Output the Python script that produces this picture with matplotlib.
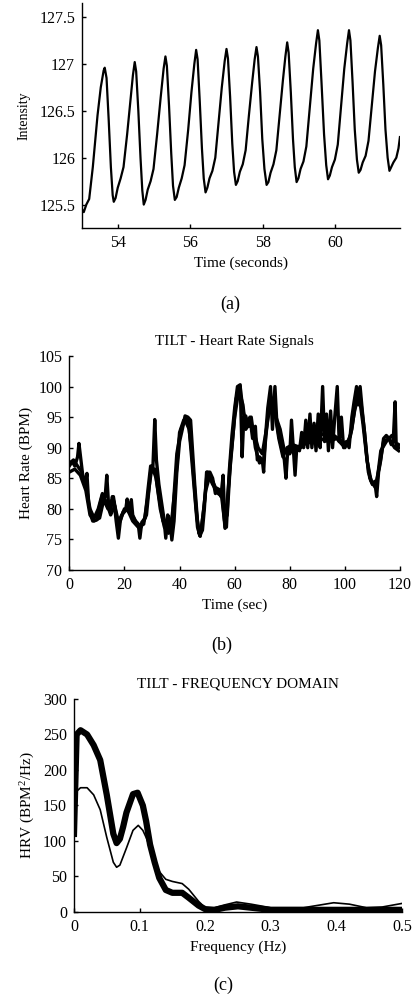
import matplotlib
matplotlib.use('Agg')
import matplotlib.pyplot as plt
from matplotlib.ticker import FormatStrFormatter

plt.rcParams['font.family'] = ['Liberation Serif', 'DejaVu Serif']
plt.rcParams['mathtext.fontset'] = 'custom'
plt.rcParams['mathtext.rm'] = 'Liberation Serif'
plt.rcParams['mathtext.it'] = 'Liberation Serif:italic'

# --- (a) PPG intensity trace ---
ppg_t = [53.0, 53.05, 53.12, 53.2, 53.3, 53.43, 53.52, 53.6, 53.63, 53.68, 53.74, 53.8, 53.85,
         53.88, 53.93, 53.99, 54.07, 54.15, 54.25, 54.34, 54.41, 54.46, 54.5, 54.56, 54.62, 54.67,
         54.71, 54.76, 54.82, 54.9, 54.98, 55.08, 55.18, 55.26, 55.31, 55.35, 55.41, 55.47, 55.52,
         55.57, 55.62, 55.68, 55.76, 55.84, 55.94, 56.03, 56.11, 56.16, 56.2, 56.26, 56.32, 56.37,
         56.42, 56.47, 56.53, 56.61, 56.69, 56.78, 56.87, 56.95, 57.0, 57.04, 57.1, 57.16, 57.21,
         57.26, 57.31, 57.37, 57.45, 57.53, 57.62, 57.71, 57.78, 57.83, 57.87, 57.93, 57.99, 58.05,
         58.11, 58.16, 58.22, 58.3, 58.38, 58.47, 58.56, 58.63, 58.68, 58.72, 58.78, 58.84, 58.89,
         58.94, 58.99, 59.05, 59.13, 59.21, 59.31, 59.4, 59.48, 59.53, 59.57, 59.63, 59.7, 59.76,
         59.81, 59.86, 59.92, 60.0, 60.08, 60.17, 60.26, 60.34, 60.39, 60.43, 60.49, 60.55, 60.61,
         60.66, 60.71, 60.77, 60.85, 60.93, 61.02, 61.11, 61.19, 61.24, 61.28, 61.34, 61.4, 61.46,
         61.51, 61.56, 61.62, 61.7, 61.76, 61.8]
ppg_v = [125.45, 125.42, 125.5, 125.56, 125.9, 126.45, 126.75, 126.93, 126.96, 126.85, 126.4, 125.9, 125.6,
         125.53, 125.57, 125.68, 125.78, 125.9, 126.25, 126.6, 126.88, 127.02, 126.92, 126.5, 126.0, 125.65,
         125.50, 125.55, 125.66, 125.75, 125.88, 126.25, 126.65, 126.95, 127.08, 126.98, 126.55, 126.05, 125.7,
         125.55, 125.58, 125.68, 125.78, 125.92, 126.3, 126.7, 127.0, 127.15, 127.05, 126.6, 126.1, 125.78,
         125.63, 125.68, 125.78, 125.86, 126.0, 126.38, 126.75, 127.03, 127.16, 127.06, 126.65, 126.15, 125.85,
         125.71, 125.75, 125.85, 125.93, 126.08, 126.45, 126.8, 127.05, 127.18, 127.08, 126.7, 126.2, 125.88,
         125.71, 125.74, 125.84, 125.93, 126.08, 126.45, 126.82, 127.08, 127.23, 127.12, 126.7, 126.2, 125.9,
         125.74, 125.78, 125.88, 125.96, 126.12, 126.55, 126.95, 127.22, 127.36, 127.25, 126.8, 126.25, 125.92,
         125.77, 125.81, 125.9, 125.98, 126.14, 126.55, 126.95, 127.22, 127.36, 127.25, 126.8, 126.3, 125.98,
         125.84, 125.87, 125.95, 126.02, 126.18, 126.55, 126.92, 127.17, 127.30, 127.2, 126.78, 126.3, 126.0,
         125.86, 125.9, 125.95, 126.0, 126.1, 126.22]

# --- (b) heart rate signals (three overlapping traces) ---
hr_t1 = [0, 1, 2, 3, 3.5, 4.2, 5, 5.8, 6.4, 7, 7.8, 8.5, 10, 11, 12, 13, 13.6, 14.2, 15, 15.6, 16.3, 17,
         17.8, 18.5, 19.5, 20.5, 21, 21.5, 22.5, 23, 24, 25, 25.6, 26.3, 27.5, 28.5, 29.5, 30.3, 31, 31.6,
         32.5, 33.5, 34.3, 35, 35.7, 36.5, 37.2, 38, 39, 40, 41, 42, 43, 44, 44.5, 45.5, 46.5, 47.3, 48.3,
         49, 49.8, 51, 52, 53, 54, 55, 55.8, 56.5, 57, 58, 59, 60, 61, 62, 62.7, 63.3, 64, 65, 65.5, 66.5,
         67.5, 68.2, 69, 70, 70.5, 71.2, 72, 73, 73.7, 74.6, 75.3, 76, 77, 78, 78.6, 79.3, 80, 80.6, 81.3,
         81.9, 82.5, 83.5, 84.3, 85, 85.8, 86.5, 87.3, 88, 88.8, 89.5, 90.3, 91, 91.9, 92.6, 93.3, 94, 94.8,
         95.5, 96.3, 97.2, 97.9, 98.7, 99.5, 100.5, 101.5, 102.5, 103.3, 104.2, 104.8, 105.5, 106.3, 107.2,
         108, 109, 110, 110.8, 111.5, 112.2, 113, 114, 115, 116, 116.8, 117.5, 118.2, 118.6, 119.5]
hr_v1 = [87.5, 87.8, 87, 88.5, 90.7, 88, 85, 84, 85.8, 81, 79, 78, 78.2, 80.5, 82.3, 82, 85.5, 81, 79.5, 82,
         81, 78, 75.2, 78, 79.5, 80, 81.6, 79.5, 81.5, 79, 78, 77.5, 75.2, 77.8, 78.5, 83, 87, 86.5, 94.6, 88,
         84, 81, 78.5, 75.2, 79, 78, 74.9, 78, 86, 91, 93, 95.2, 95, 94.5, 91, 84, 78, 75.6, 76.5,
         80, 86, 86, 85, 82.5, 83, 82, 85.5, 77, 77, 86, 92, 96.5, 100, 100.3, 88.5, 95, 95.2, 93.5, 95, 91.5,
         93.5, 88, 88.5, 88, 86, 92, 96.5, 100, 93, 100, 94, 92, 90, 88, 85, 90, 89, 94.5, 89.5,
         85.5, 90, 89.5, 92.5, 90, 94.5, 90, 95.5, 90, 94, 89.5, 95.5, 90, 100, 91, 95.5, 89.5, 96,
         90, 95, 100, 91, 95, 90, 91, 90, 95, 97.5, 100, 97, 100, 96, 92,
         88, 85, 84, 84.5, 82, 86, 88, 91.5, 92, 91.5, 90.5, 91, 97.5, 90, 90.5]

hr_t2 = [0, 2, 4, 6, 7.5, 9, 11, 12.5, 14, 16, 17.5, 19, 21, 23, 25, 27, 28.5, 30, 31.5, 33, 34.5, 36,
         37.5, 39, 40.5, 42, 43.5, 45, 46.5, 47.5, 48.8, 50, 52, 54, 55.5, 56.5, 57.8, 59, 60.5, 62, 63,
         64.5, 66, 67.5, 69, 70.5, 72, 73.5, 75, 76.5, 78, 79.5, 82, 85, 88, 91, 94, 97, 100, 102, 103.5,
         105, 106.5, 108, 109.5, 111, 112.5, 114, 116, 118, 119.5]
hr_v2 = [86, 86.5, 85.5, 83, 79, 78, 78.5, 81.5, 80, 82, 77.5, 79, 80, 78, 77, 77.5, 82, 87, 85, 80, 77, 76,
         79, 89, 93, 94.5, 93, 85, 77, 75.5, 80, 86, 84, 82.5, 82, 76.8, 84, 90, 98, 100, 96,
         93.5, 95, 90, 87.5, 88, 95, 97, 95, 93, 89.5, 89, 90, 90.5, 91, 91.5, 91, 91.5, 90, 92, 96,
         99, 94, 88, 84.5, 83.5, 87, 91, 91.5, 90, 89.5]

hr_t3 = [0, 1.5, 3, 4.5, 6, 7.5, 9, 10.5, 12, 13.5, 15, 16.5, 18, 20, 22, 24, 26, 28, 29.5, 31, 32.5, 34,
         35.5, 37, 38.5, 40, 41.5, 43, 44.5, 46, 47, 48, 49.5, 51, 53, 55, 56.3, 57.3, 58.5, 60, 61.5, 63,
         64, 65.5, 67, 68.5, 70, 71.5, 73, 74.5, 76, 77.5, 79, 81, 84, 87, 90, 93, 96, 99, 101, 102.5, 104,
         105.5, 107, 108.5, 110, 111.5, 113, 115, 117, 119.5]
hr_v3 = [87, 88, 87, 86, 84, 80, 78.5, 80, 82.5, 81, 79, 80.5, 77.5, 80, 79.5, 78, 77, 79, 86, 86.5, 82, 78,
         77, 77.5, 84, 92.5, 94.5, 94.8, 89, 80, 76, 77, 83, 85.5, 83.5, 83, 78, 79, 88, 95, 99.5, 97,
         93, 94, 92.5, 90, 89, 93, 97.5, 96, 91.5, 88.5, 90, 90.5, 90, 92, 92.5, 92, 92, 91, 90.5, 93, 98,
         98.5, 93, 86, 84, 84, 89.5, 91, 92, 90]

# --- (c) HRV spectra ---
freq_thick = [0, 0.004, 0.01, 0.02, 0.03, 0.04, 0.05, 0.06, 0.065, 0.07, 0.075, 0.08, 0.09, 0.097, 0.105,
              0.11, 0.116, 0.123, 0.13, 0.14, 0.15, 0.165, 0.175, 0.19, 0.2, 0.215, 0.23, 0.25, 0.27, 0.3,
              0.35, 0.4, 0.45, 0.5]
hrv_thick = [110, 250, 256, 250, 235, 214, 165, 110, 97, 103, 120, 140, 166, 168, 150,
             128, 95, 70, 48, 31, 27, 27, 20, 9, 4, 3, 6, 8, 6, 3,
             3, 3, 3, 3]
freq_thin = [0, 0.004, 0.01, 0.02, 0.03, 0.04, 0.05, 0.06, 0.065, 0.07, 0.08, 0.09, 0.098, 0.105, 0.11,
             0.12, 0.13, 0.14, 0.15, 0.165, 0.175, 0.19, 0.2, 0.21, 0.23, 0.248, 0.27, 0.3, 0.35, 0.396,
             0.42, 0.446, 0.47, 0.5]
hrv_thin = [100, 170, 175, 175, 165, 144, 105, 70, 63, 66, 90, 115, 122, 115, 105,
            80, 57, 46, 43, 40, 32, 15, 6, 5, 10, 14, 11, 6, 6, 13,
            11, 6, 7, 12]

TICK_FS = 11.5
LABEL_FS = 11


def style_ax(ax):
    ax.spines['top'].set_visible(False)
    ax.spines['right'].set_visible(False)
    for s in ('left', 'bottom'):
        ax.spines[s].set_linewidth(1.0)
    ax.tick_params(direction='in', length=3, width=1.0, labelsize=TICK_FS, pad=5)


fig = plt.figure(figsize=(4.14, 9.98), dpi=100)

# (a)
ax1 = fig.add_axes([0.198, 0.7715, 0.768, 0.2255])
ax1.plot(ppg_t, ppg_v, color='black', lw=1.6)
ax1.set_xlim(53.0, 61.8)
ax1.set_ylim(125.25, 127.65)
ax1.set_xticks([54, 56, 58, 60])
ax1.set_yticks([125.5, 126, 126.5, 127, 127.5])
ax1.yaxis.set_major_formatter(FormatStrFormatter('%g'))
style_ax(ax1)
ax1.set_xlabel('Time (seconds)', fontsize=LABEL_FS, labelpad=4)
ax1.set_ylabel('Intensity', fontsize=10, labelpad=6)
fig.text(0.556, 1 - 304 / 998, '(a)', ha='center', va='center', fontsize=13)

# (b)
ax2 = fig.add_axes([0.1674, 0.4289, 0.799, 0.2144])
for t, v in ((hr_t2, hr_v2), (hr_t3, hr_v3), (hr_t1, hr_v1)):
    ax2.plot(t, v, color='black', lw=2.4)
ax2.set_xlim(0, 120)
ax2.set_ylim(70, 105)
ax2.set_xticks(range(0, 121, 20))
ax2.set_yticks(range(70, 106, 5))
style_ax(ax2)
ax2.set_title('TILT - Heart Rate Signals', fontsize=LABEL_FS, pad=8)
ax2.set_xlabel('Time (sec)', fontsize=LABEL_FS, labelpad=4)
ax2.set_ylabel('Heart Rate (BPM)', fontsize=LABEL_FS, labelpad=4)
fig.text(0.536, 1 - 645 / 998, '(b)', ha='center', va='center', fontsize=13)

# (c)
ax3 = fig.add_axes([0.1787, 0.0862, 0.792, 0.2134])
ax3.plot(freq_thick, hrv_thick, color='black', lw=4.5, solid_joinstyle='round')
ax3.plot(freq_thin, hrv_thin, color='black', lw=1.2)
ax3.set_xlim(0, 0.5)
ax3.set_ylim(0, 300)
ax3.set_xticks([0, 0.1, 0.2, 0.3, 0.4, 0.5])
ax3.set_yticks(range(0, 301, 50))
ax3.xaxis.set_major_formatter(FormatStrFormatter('%g'))
style_ax(ax3)
ax3.set_title('TILT - FREQUENCY DOMAIN', fontsize=LABEL_FS, pad=8)
ax3.set_xlabel('Frequency (Hz)', fontsize=LABEL_FS, labelpad=4)
ax3.set_ylabel('HRV (BPM$^2$/Hz)', fontsize=LABEL_FS, labelpad=4)
fig.text(0.539, 1 - 985 / 998, '(c)', ha='center', va='center', fontsize=13)

fig.savefig('out.png', dpi=100, facecolor='white')
